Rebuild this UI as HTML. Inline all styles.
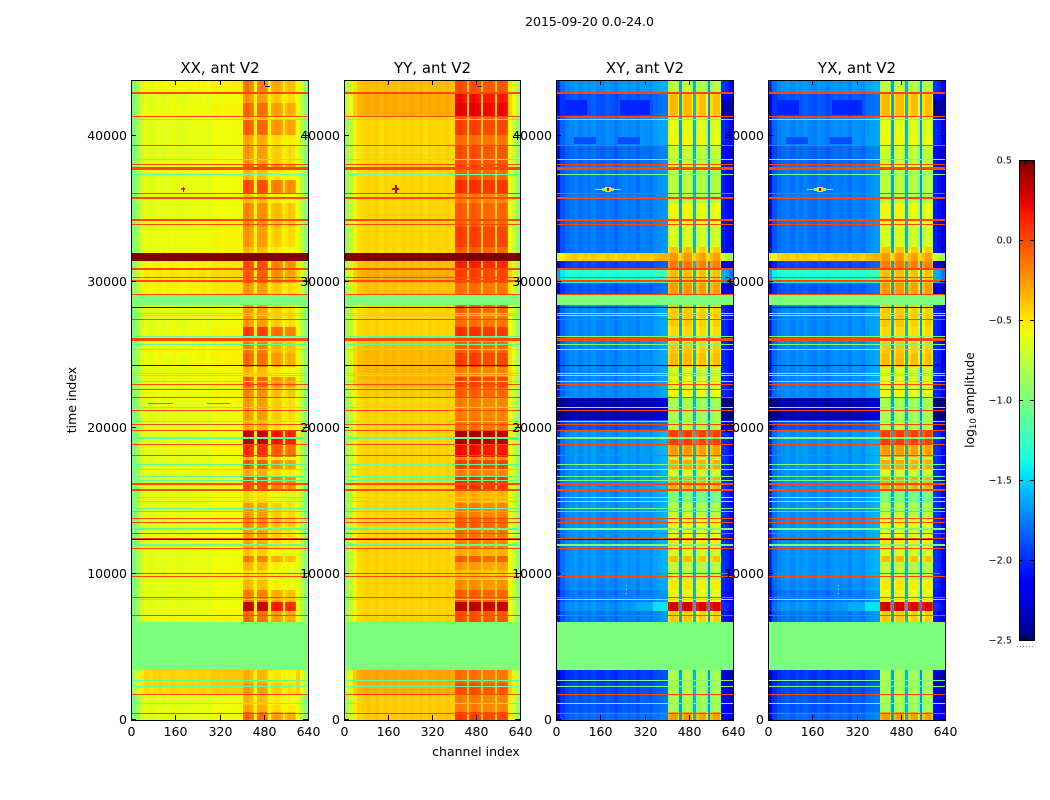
<!DOCTYPE html>
<html>
<head>
<meta charset="utf-8">
<title>2015-09-20 0.0-24.0</title>
<style>
html,body{margin:0;padding:0;background:#fff;}
svg{display:block;}
text{font-family:"DejaVu Sans","Liberation Sans",sans-serif;fill:#000;}
</style>
</head>
<body>
<svg id="figure" xmlns="http://www.w3.org/2000/svg" width="1050" height="800" viewBox="0 0 1050 800">
  <rect x="0" y="0" width="1050" height="800" fill="#fff"/>
  <text x="589.5" y="26" font-size="12.5" text-anchor="middle">2015-09-20 0.0-24.0</text>
  <text x="76" y="400" font-size="12.5" text-anchor="middle" transform="rotate(-90 76 400)">time index</text>
  <text x="476" y="756" font-size="12.5" text-anchor="middle">channel index</text>
  <text x="974" y="400" font-size="12.3" text-anchor="middle" transform="rotate(-90 974 400)">log<tspan font-size="8.5" dy="2">10</tspan><tspan dy="-2"> amplitude</tspan></text>
  <g id="panels"></g>
  <g id="colorbar"></g>
</svg>
<script>
/* ---------- axis ticks ---------- */
const channelTicks = [0, 160, 320, 480, 640];
const timeTicks = [0, 10000, 20000, 30000, 40000];
const colorTicks = [0.5, 0, -0.5, -1, -1.5, -2, -2.5];
const channelMax = 640;
const timeMax = 43800;
const colorMin = -2.5;
const colorMax = 0.5;

/* ---------- channel columns (channel index edges) ---------- */
const channelEdges = [0,16,32,48,64,80,96,112,128,144,160,176,192,208,224,240,256,272,288,304,320,336,352,368,384,405,414,428,440,446,455,464,478,490,497,507,516,530,542,548,558,567,580,592,597,610,625,640];
/* column kind: 0 = out of band, 1 = in band, 2 = gap between sub-bands */
const columnKind = [0,0,0,0,0,0,0,0,0,0,0,0,0,0,0,0,0,0,0,0,0,0,0,0,0,1,1,1,1,2,1,1,1,1,2,1,1,1,1,2,1,1,1,1,0,0,0];
const xxProfile = [-.4,-.25,-.08,0,-.03,0,.02,-.02,0,.02,0,-.02,0,.02,0,.02,.03,0,.04,.05,.03,.05,.04,.05,.05,.05,.08,.02,-.03,-.55,.05,.04,.02,-.05,-.55,-.14,-.1,-.12,-.2,-.55,-.2,-.15,-.18,-.25,.03,-.15,-.35];
const yyProfile = [-.5,-.3,-.1,-.02,0,.02,0,.03,-.02,.02,0,.02,-.02,.02,0,.02,0,.02,-.02,.02,0,.02,0,.02,0,.05,.06,.03,0,-.42,.05,.06,.03,0,-.42,.02,0,0,-.03,-.42,.02,.02,0,-.03,-.12,-.25,-.45];
const xyProfile = [-.3,-.08,0,.02,.05,0,.05,.02,.06,.02,0,.05,.02,-.02,.03,.05,.02,.05,0,.06,.05,.02,.08,.1,.12,-.15,-.05,-.05,-.3,-1.65,-.15,-.05,-.05,-.3,-1.6,-.17,-.07,-.07,-.3,-1.7,-.17,-.07,-.07,-.3,-.25,-.3,-.45];
const yxProfile = xyProfile;

/* ---------- time rows: upper time index of each row, and log10 amplitude per row ---------- */
const rowTops = [548,1027,1711,2532,3422,6734,7460,8076,8897,9582,10266,10813,11224,11772,12524,13209,13893,14851,15741,16631,17179,17794,18000,18821,19779,20532,22106,22790,23475,24159,25117,25870,26213,26897,27855,28403,29087,29908,30798,31414,31962,32373,33742,34358,35384,36068,36958,37642,37984,39353,40037,41064,41338,42228,42912,43800];
const xxHigh = [-.15,-.35,-.4,-.3,-.38,-.5,-.15,.27,-.2,-.4,-.5,-.4,-.2,-.45,-.35,-.3,-.25,-.3,-.5,-.05,-.35,-.1,-.4,.05,.3,-.35,-.3,-.25,-.1,-.4,-.15,-.2,-.45,0,-.3,-.3,-.5,-.3,-.1,-.05,.5,-.4,-.3,-.25,-.25,-.4,-.05,-.4,-.1,-.3,-.35,-.12,-.4,-.15,-.3,-.2];
const yyHigh = [0,-.2,-.2,-.05,-.15,-.3,-.05,.3,-.1,-.25,-.4,-.3,-.1,-.35,-.2,-.15,-.1,-.2,-.35,.05,-.2,0,-.25,.15,.35,-.15,-.2,-.1,0,-.2,0,-.1,-.3,.05,-.15,-.1,-.3,-.15,0,.1,.5,-.1,0,-.1,-.1,-.2,.05,-.1,0,-.05,-.15,0,-.1,.2,.15,-.05];
const xyHigh = [-.2,-.8,-.75,-.75,-.75,-.9,-.35,.35,-.5,-.45,-.7,-.7,-.3,-.6,-.45,-.55,-.5,-.7,-.9,-.25,-.6,-.25,-.7,-.2,.1,-.7,-.75,-.5,-.55,-.6,-.3,-.35,-.6,-.4,-.35,-.35,-.9,-.2,-.3,-.1,-.2,-.35,-.6,-.5,-.5,-.7,-.7,-.7,-.5,-.65,-.5,-.55,-.6,-.3,-.3,-.7];
const yxHigh = xyHigh;
const xxLow = [-.62,-.62,-.62,-.45,-.45,-.6,-.62,-.62,-.62,-.62,-.62,-.62,-.62,-.62,-.62,-.62,-.62,-.62,-.62,-.62,-.62,-.62,-.62,-.62,-.62,-.62,-.62,-.6,-.6,-.6,-.58,-.58,-.6,-.6,-.62,-.62,-.62,-.55,-.5,-.55,.5,-.6,-.6,-.6,-.62,-.62,-.62,-.62,-.62,-.62,-.62,-.62,-.62,-.6,-.62,-.58];
const yyLow = [-.42,-.42,-.42,-.32,-.3,-.5,-.45,-.45,-.45,-.45,-.45,-.45,-.45,-.45,-.45,-.45,-.45,-.45,-.45,-.45,-.45,-.45,-.45,-.45,-.45,-.45,-.45,-.42,-.36,-.36,-.36,-.36,-.42,-.45,-.45,-.45,-.45,-.4,-.33,-.38,.5,-.46,-.46,-.46,-.46,-.46,-.46,-.46,-.46,-.46,-.46,-.46,-.46,-.32,-.32,-.38];
const xyLow = [-1.85,-1.9,-1.9,-1.95,-2,-1.8,-1.8,-1.72,-1.8,-1.75,-1.72,-1.72,-1.72,-1.72,-1.72,-1.72,-1.72,-1.72,-1.72,-1.72,-1.72,-1.72,-1.72,-1.72,-1.72,-1.9,-2.38,-1.75,-1.75,-1.75,-1.75,-1.75,-1.75,-1.75,-1.75,-1.75,-1.9,-1.9,-1.35,-1.95,-.45,-1.8,-1.8,-1.8,-1.8,-1.8,-1.8,-1.8,-1.8,-1.85,-1.75,-1.75,-1.75,-1.9,-1.9,-1.72];
const yxLow = xyLow;

/* ---------- flagged data and interference lines (time index, duration) ---------- */
const flaggedStarts = [3422, 28403];
const flaggedEnds = [6734, 29087];
const flaggedValue = -1;
const redTimes = [459,1759,7166,8397,9835,10040,11751,12435,12778,13531,13804,15741,16104,16200,18116,18869,19848,20238,21196,22086,22633,22975,26007,26124,27424,29135,30066,30271,30866,33926,34220,35726,36020,37758,38004,39332,41317,42933];
const redDurations = [70,100,70,70,70,70,70,100,70,70,70,70,60,60,70,70,60,70,70,70,70,70,70,70,70,80,140,70,140,70,140,140,70,200,70,70,70,140];
const redValue = 0;
const greenTimes = [1143,2306,2717,8261,11977,13072,14462,14968,15242,16405,16679,17158,17473,19300,20416,21354,23181,23544,23728,25371,25713,26233,27650,27835,37349,38375,41112];
const greenDurations = [70,70,70,70,140,70,70,70,70,70,70,70,70,70,70,70,70,70,100,70,70,70,70,70,100,70,70];
const greenValueAuto = -1.1;
const greenValueCross = -1;
const blueTimes = [14284,12340,24276,28246];
const blueValues = [-1.4,-2.15,-2.15,-2.15];
const blueDurations = [70,70,70,70];

/* ---------- isolated features: [channel start, channel end, time start, time end, log10 amplitude] ---------- */
const xxSpots = [[182,196,36260,36380,.1],[187,191,36150,36500,.25],[61,152,21640,21700,-1.6],[273,358,21640,21700,-1.6],[485,503,43320,43400,-2.2]];
const yySpots = [[176,200,36240,36380,.2],[185,191,36000,36600,.4],[485,503,43320,43400,-2]];
const xySpots = [[32,112,41400,42450,-2.02],[232,340,41400,42450,-2.02],[600,640,41400,42400,-2.4],[64,144,39400,39900,-1.9],[224,304,39400,39900,-1.9],[288,352,7460,8076,-1.62],[352,405,7460,8076,-1.45],[140,235,36280,36340,-1.2],[165,210,36230,36400,-1],[178,198,36150,36480,-.5],[184,192,36230,36400,.35],[253,255,8650,8710,-.9],[253,255,8900,8960,-.7],[253,255,9150,9210,-.9]];
const yxSpots = xySpots;

/* ---------- panels ---------- */
const panelNames = ['XX, ant V2', 'YY, ant V2', 'XY, ant V2', 'YX, ant V2'];
const panelLeft = [131, 344, 556, 768];
const panelWidths = [177, 176, 177, 177];
const plotTop = 80;
const plotBottom = 720;
const panelData = [
  {key:'xx', profile:xxProfile, low:xxLow, high:xxHigh, spots:xxSpots, green:greenValueAuto},
  {key:'yy', profile:yyProfile, low:yyLow, high:yyHigh, spots:yySpots, green:greenValueAuto},
  {key:'xy', profile:xyProfile, low:xyLow, high:xyHigh, spots:xySpots, green:greenValueCross},
  {key:'yx', profile:yxProfile, low:yxLow, high:yxHigh, spots:yxSpots, green:greenValueCross}
];

const NS = 'http://www.w3.org/2000/svg';
function jetPart(x, pts) {
  for (let i = 1; i < pts.length; i++) {
    if (x <= pts[i][0]) {
      const a = pts[i - 1], b = pts[i];
      return a[1] + (b[1] - a[1]) * (x - a[0]) / (b[0] - a[0]);
    }
  }
  return pts[pts.length - 1][1];
}
const jetR = [[0,0],[.35,0],[.66,1],[.89,1],[1,.5]];
const jetG = [[0,0],[.125,0],[.375,1],[.64,1],[.91,0],[1,0]];
const jetB = [[0,.5],[.11,1],[.34,1],[.65,0],[1,0]];
function colorOf(v) {
  const x = Math.max(0, Math.min(1, (v - colorMin) / (colorMax - colorMin)));
  return 'rgb(' + Math.round(255 * jetPart(x, jetR)) + ',' + Math.round(255 * jetPart(x, jetG)) + ',' + Math.round(255 * jetPart(x, jetB)) + ')';
}
function xScale(pi, ch) { return panelLeft[pi] + ch / channelMax * panelWidths[pi]; }
function yScale(t) { return plotBottom - t / timeMax * (plotBottom - plotTop); }

function addRect(parent, x0, x1, y0, y1, fill, name) {
  const el = document.createElementNS(NS, 'rect');
  
  
  el.setAttribute('x', x0);
  el.setAttribute('y', y0);
  el.setAttribute('width', Math.max(x1 - x0, 0));
  el.setAttribute('height', Math.max(y1 - y0, 1));
  el.setAttribute('fill', fill);
  el.setAttribute('shape-rendering', 'crispEdges');
  parent.appendChild(el);
  return el;
}
function addLine(parent, x1, y1, x2, y2, name) {
  const el = document.createElementNS(NS, 'line');
  
  
  el.setAttribute('x1', x1);
  el.setAttribute('y1', y1);
  el.setAttribute('x2', x2);
  el.setAttribute('y2', y2);
  el.setAttribute('stroke', '#000');
  el.setAttribute('stroke-width', '1');
  el.setAttribute('shape-rendering', 'crispEdges');
  parent.appendChild(el);
}
function addText(parent, x, y, str, size, anchor, name) {
  const el = document.createElementNS(NS, 'text');
  
  
  el.setAttribute('x', x);
  el.setAttribute('y', y);
  el.setAttribute('font-size', size);
  el.setAttribute('text-anchor', anchor);
  el.textContent = str;
  parent.appendChild(el);
}
function timeBand(g, pi, center, duration, value, name) {
  const x0 = Math.round(xScale(pi, 0)), x1 = Math.round(xScale(pi, channelMax));
  const y0 = Math.round(yScale(center + duration / 2));
  const y1 = Math.round(yScale(center - duration / 2));
  addRect(g, x0, x1, y0, y1, colorOf(value), name);
}

const panelsRoot = document.getElementById('panels');
panelData.forEach(function (p, pi) {
  const left = panelLeft[pi];
  const width = panelWidths[pi];
  const g = document.createElementNS(NS, 'g');
  
  
  panelsRoot.appendChild(g);

  /* heat cells */
  rowTops.forEach(function (top, r) {
    const bottom = r === 0 ? 0 : rowTops[r - 1];
    const y0 = Math.round(yScale(top)), y1 = Math.round(yScale(bottom));
    columnKind.forEach(function (kind, c) {
      const base = kind === 1 ? p.high[r] : (kind === 0 ? p.low[r] : 0);
      const solid = p.low[r] >= colorMax;
      const value = solid ? colorMax : (kind === 2 && p.key.charAt(0) !== p.key.charAt(1) && p.low[r] > -1 ? p.low[r] : base + p.profile[c]);
      const x0 = Math.round(xScale(pi, channelEdges[c]));
      const x1 = Math.round(xScale(pi, channelEdges[c + 1]));
      addRect(g, x0, x1, y0, y1, colorOf(value), 'heat-cell');
    });
  });

  /* flagged blocks */
  flaggedStarts.forEach(function (s, i) {
    const x0 = Math.round(xScale(pi, 0)), x1 = Math.round(xScale(pi, channelMax));
    addRect(g, x0, x1, Math.round(yScale(flaggedEnds[i])), Math.round(yScale(s)), colorOf(flaggedValue), 'flagged-block');
  });

  /* isolated features */
  p.spots.forEach(function (s) {
    addRect(g, Math.round(xScale(pi, s[0])), Math.round(xScale(pi, s[1])), Math.round(yScale(s[3])), Math.round(yScale(s[2])), colorOf(s[4]), 'interference-spot');
  });

  /* interference lines */
  greenTimes.forEach(function (t, i) { timeBand(g, pi, t, greenDurations[i], p.green, 'flag-line-green'); });
  blueTimes.forEach(function (t, i) { timeBand(g, pi, t, blueDurations[i], blueValues[i], 'flag-line-blue'); });
  redTimes.forEach(function (t, i) { timeBand(g, pi, t, redDurations[i], redValue, 'flag-line-red'); });

  /* frame */
  const frame = document.createElementNS(NS, 'rect');
  
  
  frame.setAttribute('x', left + 0.5);
  frame.setAttribute('y', plotTop + 0.5);
  frame.setAttribute('width', width);
  frame.setAttribute('height', plotBottom - plotTop);
  frame.setAttribute('fill', 'none');
  frame.setAttribute('stroke', '#000');
  frame.setAttribute('stroke-width', '1');
  frame.setAttribute('shape-rendering', 'crispEdges');
  g.appendChild(frame);

  /* ticks and labels */
  channelTicks.forEach(function (ch) {
    const x = Math.round(xScale(pi, ch)) + 0.5;
    addLine(g, x, plotBottom, x, plotBottom - 5, 'x-tick');
    addLine(g, x, plotTop, x, plotTop + 5, 'x-tick-top');
    addText(g, x, plotBottom + 16, String(ch), 12.5, 'middle', 'x-tick-label');
  });
  timeTicks.forEach(function (t) {
    const y = Math.round(yScale(t)) - 0.5;
    addLine(g, left, y, left + 5, y, 'y-tick');
    addLine(g, left + width, y, left + width - 5, y, 'y-tick-right');
    addText(g, left - 4, y + 4.5, String(t), 12.5, 'end', 'y-tick-label');
  });
  addText(g, left + width / 2 + 0.5, 73, panelNames[pi], 15, 'middle', 'panel-title');
});

/* ---------- colorbar ---------- */
const cbar = document.getElementById('colorbar');
const cbarLeft = 1019, cbarRight = 1034, cbarTop = 160, cbarBottom = 640;
function cbarY(v) { return cbarBottom - (v - colorMin) / (colorMax - colorMin) * (cbarBottom - cbarTop); }
for (let py = cbarTop; py < cbarBottom; py += 2) {
  const v = colorMax - (py + 1 - cbarTop) / (cbarBottom - cbarTop) * (colorMax - colorMin);
  addRect(cbar, cbarLeft, cbarRight, py, py + 2, colorOf(v), 'colorbar-step');
}
const cbarFrame = document.createElementNS(NS, 'rect');


cbarFrame.setAttribute('x', cbarLeft + 0.5);
cbarFrame.setAttribute('y', cbarTop + 0.5);
cbarFrame.setAttribute('width', cbarRight - cbarLeft);
cbarFrame.setAttribute('height', cbarBottom - cbarTop);
cbarFrame.setAttribute('fill', 'none');
cbarFrame.setAttribute('stroke', '#000');
cbarFrame.setAttribute('stroke-width', '1');
cbarFrame.setAttribute('shape-rendering', 'crispEdges');
cbar.appendChild(cbarFrame);
colorTicks.forEach(function (v) {
  const y = Math.round(cbarY(v)) + 0.5;
  addLine(cbar, cbarLeft, y, cbarLeft + 4, y, 'colorbar-tick');
  addLine(cbar, cbarRight, y, cbarRight - 4, y, 'colorbar-tick-right');
  const label = v.toFixed(1).replace('-', '\u2212');
  addText(cbar, 1012, y + 3, label, 9.7, 'end', 'colorbar-tick-label');
});
const cbarMinorMarks = [1, 2, 3, 4, 5];
cbarMinorMarks.forEach(function (m) {
  const x = cbarLeft + m * 2.5 + 0.5;
  addLine(cbar, x, cbarTop, x, cbarTop + 4, 'colorbar-end-tick');
  addLine(cbar, x, cbarBottom, x, cbarBottom - 4, 'colorbar-end-tick');
});
const cbarDots = document.createElementNS(NS, 'line');


cbarDots.setAttribute('x1', 1017);
cbarDots.setAttribute('y1', 646.5);
cbarDots.setAttribute('x2', 1035);
cbarDots.setAttribute('y2', 646.5);
cbarDots.setAttribute('stroke', '#888');
cbarDots.setAttribute('stroke-dasharray', '1 2');
cbar.appendChild(cbarDots);
</script>
</body>
</html>
